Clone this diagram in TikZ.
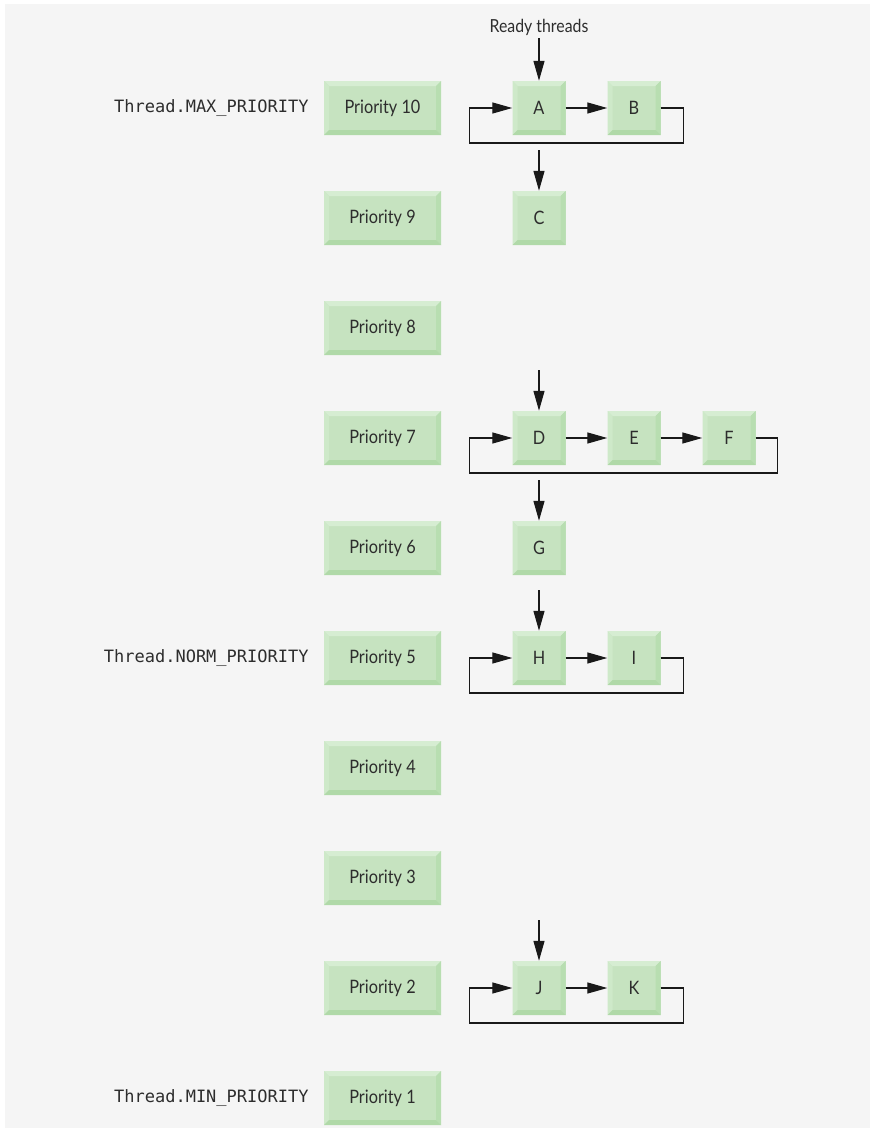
\documentclass[tikz,border=0pt]{standalone}
\usepackage{fontspec}
\setmainfont{Lato}[FakeStretch=0.88]
\setmonofont{DejaVu Sans Mono}
\usetikzlibrary{arrows.meta}
\definecolor{Paper}{RGB}{245,245,245}
\definecolor{Face}{RGB}{198,227,192}
\definecolor{BevelTop}{RGB}{214,237,210}
\definecolor{BevelLeft}{RGB}{206,233,201}
\definecolor{BevelRight}{RGB}{184,222,177}
\definecolor{BevelBottom}{RGB}{176,217,168}
\definecolor{Ink}{RGB}{45,45,45}

\tikzset{
  bevelbox/.style={fill=Face, inner sep=0pt, text=Ink, font=\fontsize{18.5}{20}\selectfont,
    path picture={
      \fill[BevelTop] (path picture bounding box.north west) -- (path picture bounding box.north east)
        -- ([shift={(-5pt,-5pt)}]path picture bounding box.north east)
        -- ([shift={(5pt,-5pt)}]path picture bounding box.north west) -- cycle;
      \fill[BevelLeft] (path picture bounding box.north west) -- (path picture bounding box.south west)
        -- ([shift={(5pt,5pt)}]path picture bounding box.south west)
        -- ([shift={(5pt,-5pt)}]path picture bounding box.north west) -- cycle;
      \fill[BevelRight] (path picture bounding box.north east) -- (path picture bounding box.south east)
        -- ([shift={(-5pt,5pt)}]path picture bounding box.south east)
        -- ([shift={(-5pt,-5pt)}]path picture bounding box.north east) -- cycle;
      \fill[BevelBottom] (path picture bounding box.south west) -- (path picture bounding box.south east)
        -- ([shift={(-5pt,5pt)}]path picture bounding box.south east)
        -- ([shift={(5pt,5pt)}]path picture bounding box.south west) -- cycle;
    }},
  prio/.style={bevelbox, minimum width=117pt, minimum height=54pt},
  thread/.style={bevelbox, minimum width=53pt, minimum height=54pt},
  const/.style={anchor=east, text=Ink, inner sep=0pt, font=\ttfamily\fontsize{17}{20}\selectfont},
  txt/.style={text=Ink, inner sep=3pt, font=\fontsize{18}{20}\selectfont},
  arr/.style={draw=black!90, line width=1.3pt, -{Triangle[length=20pt,width=11pt]}},
}

\begin{document}
\begin{tikzpicture}[x=1pt, y=-1pt]

% Page and background
\useasboundingbox (0,0) rectangle (874,1135);
\fill[white] (0,0) rectangle (874,1135);
\fill[Paper] (5,4) rectangle (870,1128);

% Priority levels
\foreach \p [count=\i from 0] in {10,9,...,1}
  \node[prio] (p\p) at (382.5, {108+110*\i}) {Priority \p};

% Constants
\node[const] (cmax) at ([xshift=-15pt]p10.west) {Thread.MAX\_PRIORITY};
\node[const] (cnorm) at ([xshift=-15pt]p5.west) {Thread.NORM\_PRIORITY};
\node[const] (cmin) at ([xshift=-15pt]p1.west) {Thread.MIN\_PRIORITY};

% Threads
\node[thread] (A) at (539,108) {A};
\node[thread] (B) at (634,108) {B};
\node[thread] (C) at (539,218) {C};
\node[thread] (D) at (539,438) {D};
\node[thread] (E) at (634,438) {E};
\node[thread] (F) at (729,438) {F};
\node[thread] (G) at (539,548) {G};
\node[thread] (H) at (539,658) {H};
\node[thread] (I) at (634,658) {I};
\node[thread] (J) at (539,988) {J};
\node[thread] (K) at (634,988) {K};

% Entry points
\node[txt] (ready) at (539,27) {Ready threads};
\coordinate (inC) at (539,150);
\coordinate (inD) at (539,370);
\coordinate (inG) at (539,480);
\coordinate (inH) at (539,590);
\coordinate (inJ) at (539,920);

\draw[arr] (ready) -- (A);
\draw[arr] (inC) -- (C);
\draw[arr] (inD) -- (D);
\draw[arr] (inG) -- (G);
\draw[arr] (inH) -- (H);
\draw[arr] (inJ) -- (J);

% Round-robin queues
\draw[arr] (A) -- (B);
\draw[arr] (B.east) -- ++(23,0) -- ++(0,35) -| ([xshift=-43pt]A.west) -- (A.west);

\draw[arr] (D) -- (E);
\draw[arr] (E) -- (F);
\draw[arr] (F.east) -- ++(22,0) -- ++(0,35) -| ([xshift=-43pt]D.west) -- (D.west);

\draw[arr] (H) -- (I);
\draw[arr] (I.east) -- ++(23,0) -- ++(0,35) -| ([xshift=-43pt]H.west) -- (H.west);

\draw[arr] (J) -- (K);
\draw[arr] (K.east) -- ++(23,0) -- ++(0,35) -| ([xshift=-43pt]J.west) -- (J.west);

\end{tikzpicture}
\end{document}
